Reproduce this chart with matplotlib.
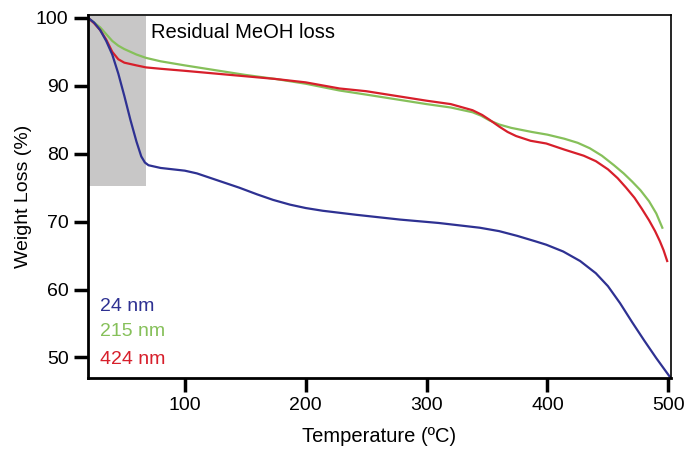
import matplotlib
matplotlib.use("Agg")
import matplotlib.pyplot as plt
from matplotlib.patches import Rectangle

plt.rcParams['font.family'] = ['Liberation Sans', 'DejaVu Sans']

# 24 nm sample
temp_24 = [20, 25, 30, 35, 40, 45, 50, 55, 60, 64, 67, 70, 80, 90, 100, 110, 120, 130,
           145, 160, 173, 187, 200, 214, 242, 278, 310, 344, 360, 375, 390, 399, 413,
           427, 440, 450, 460, 470, 480, 490, 501]
loss_24 = [100, 99.3, 98.2, 96.6, 94.6, 91.8, 88.5, 85.0, 81.8, 79.6, 78.7, 78.3, 77.9,
           77.7, 77.5, 77.1, 76.5, 75.9, 75.0, 74.0, 73.2, 72.5, 72.0, 71.6, 71.0, 70.3,
           69.8, 69.1, 68.6, 67.9, 67.1, 66.6, 65.6, 64.2, 62.4, 60.5, 58.0, 55.2, 52.5,
           49.9, 47.2]

# 215 nm sample
temp_215 = [20, 25, 30, 35, 40, 45, 50, 55, 60, 68, 80, 100, 125, 150, 175, 200, 228,
            250, 275, 300, 320, 338, 345, 352, 360, 370, 387, 400, 414, 425, 435, 445,
            455, 463, 470, 477, 484, 490, 495]
loss_215 = [100, 99.3, 98.6, 97.6, 96.6, 95.9, 95.4, 95.0, 94.6, 94.1, 93.6, 93.0, 92.3,
            91.6, 91.0, 90.3, 89.3, 88.7, 88.0, 87.3, 86.8, 86.1, 85.6, 84.9, 84.3, 83.8,
            83.2, 82.8, 82.2, 81.6, 80.8, 79.7, 78.3, 77.1, 75.9, 74.6, 73.0, 71.2, 69.1]

# 424 nm sample
temp_424 = [20, 25, 30, 35, 40, 45, 50, 60, 68, 80, 100, 125, 150, 175, 200, 228, 250,
            275, 300, 320, 338, 346, 352, 360, 367, 374, 386, 399, 414, 430, 440, 450,
            458, 465, 472, 478, 484, 489, 493, 496, 499]
loss_424 = [100, 99.2, 98.2, 96.8, 95.0, 93.9, 93.4, 93.0, 92.7, 92.5, 92.2, 91.8, 91.4,
            91.0, 90.5, 89.6, 89.2, 88.5, 87.8, 87.3, 86.4, 85.7, 85.0, 84.0, 83.2, 82.6,
            81.9, 81.5, 80.6, 79.7, 78.9, 77.7, 76.4, 75.0, 73.5, 71.9, 70.2, 68.6, 67.1,
            65.8, 64.2]

series_labels = ["24 nm", "215 nm", "424 nm"]
colors = ["#2e3192", "#86c05a", "#d71f2b"]

fig = plt.figure(figsize=(6.88, 4.58), dpi=100)
ax = fig.add_axes([0.128, 0.175, 0.847, 0.792])

# shaded region for methanol loss
ax.add_patch(Rectangle((20, 75.2), 48, 25.1, facecolor="#c8c7c7", edgecolor="none", zorder=0))
ax.text(72, 97.8, "Residual MeOH loss", fontsize=14.5, va="center", ha="left")

lw = 1.6
ax.plot(temp_215, loss_215, color=colors[1], lw=lw)
ax.plot(temp_424, loss_424, color=colors[2], lw=lw)
ax.plot(temp_24, loss_24, color=colors[0], lw=lw)

for lab, col, yy in zip(series_labels, colors, [57.5, 53.8, 49.7]):
    ax.text(30, yy, lab, color=col, fontsize=14, va="center", ha="left")

ax.set_xlim(20, 502)
ax.set_ylim(47, 100.4)
ax.set_xticks([100, 200, 300, 400, 500])
ax.set_yticks([50, 60, 70, 80, 90, 100])

ax.set_xlabel("Temperature (ºC)", fontsize=14.5, labelpad=9)
ax.set_ylabel("Weight Loss (%)", fontsize=14, labelpad=3)

for side in ["left", "bottom"]:
    ax.spines[side].set_linewidth(2)
for side in ["top", "right"]:
    ax.spines[side].set_linewidth(1.2)
ax.tick_params(axis="both", direction="out", length=10, width=2.5, labelsize=14, pad=4)

fig.savefig("out.png", dpi=100)
